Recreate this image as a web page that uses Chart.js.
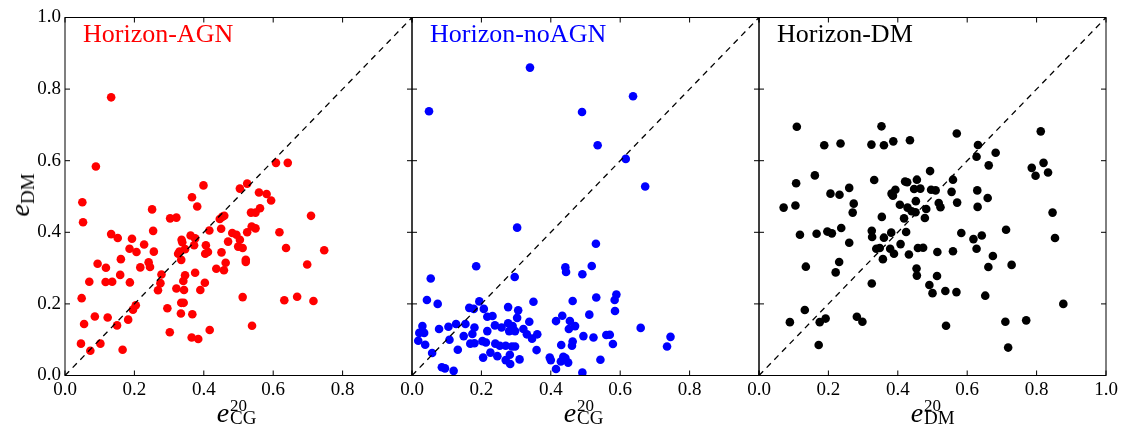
<!DOCTYPE html>
<html>
<head>
<meta charset="utf-8">
<script src="https://cdn.jsdelivr.net/npm/chart.js@4.4.0/dist/chart.umd.min.js"></script>
<style>
html, body { margin: 0; padding: 0; background: #fff; }
#fig { position: relative; width: 1123px; height: 434px; overflow: hidden; font-family: "Liberation Serif", "Times New Roman", serif; color: #000; }
#fig canvas { position: absolute; left: 0; top: 0; }
.name { position: absolute; top: 20.9px; font-size: 26px; line-height: 1; white-space: nowrap; }
.xl { position: absolute; top: 0; width: 0; height: 0; }
.xl span { position: absolute; line-height: 1; white-space: nowrap; }
.xl .e { left: -21.8px; top: 399.2px; font-size: 28px; font-style: italic; }
.xl .sup { left: -8.5px; top: 396.5px; font-size: 17px; }
.xl .sub { left: -8.5px; top: 408.4px; font-size: 19px; }
.yl { position: absolute; left: 20px; top: 195px; transform: translate(-50%, -50%) rotate(-90deg); font-size: 28px; line-height: 1; white-space: nowrap; }
.yl i { font-style: italic; }
.yl span { font-size: 19px; position: relative; top: 5px; }
</style>
</head>
<body>
<div id="fig">
  <canvas id="c-agn" width="1123" height="434"></canvas>
  <canvas id="c-noagn" width="1123" height="434"></canvas>
  <canvas id="c-dm" width="1123" height="434"></canvas>

  <div class="name" style="left:83px;color:#ff0000">Horizon-AGN</div>
  <div class="name" style="left:430px;color:#0000ff">Horizon-noAGN</div>
  <div class="name" style="left:777px;color:#000000">Horizon-DM</div>

  <div class="yl"><i>e</i><span>DM</span></div>
  <div class="xl" style="left:238.5px"><span class="e">e</span><span class="sup">20</span><span class="sub">CG</span></div>
  <div class="xl" style="left:585.5px"><span class="e">e</span><span class="sup">20</span><span class="sub">CG</span></div>
  <div class="xl" style="left:932.5px"><span class="e">e</span><span class="sup">20</span><span class="sub">DM</span></div>
</div>
<script>
// Horizon-AGN: e_CG^20 vs e_DM
const agnX = [0.399,0.504,0.525,0.050,0.366,0.381,0.559,0.581,0.594,0.562,0.549,0.536,0.709,0.052,0.251,0.303,0.321,0.446,0.453,0.459,
  0.450,0.416,0.538,0.549,0.525,0.618,0.133,0.152,0.193,0.254,0.362,0.336,0.338,0.375,0.482,0.494,0.504,0.470,0.372,0.406,
  0.499,0.512,0.228,0.186,0.206,0.256,0.330,0.346,0.326,0.404,0.412,0.451,0.335,0.161,0.094,0.118,0.217,0.241,0.245,0.463,
  0.521,0.521,0.436,0.458,0.698,0.637,0.747,0.070,0.117,0.136,0.159,0.187,0.278,0.275,0.346,0.341,0.375,0.403,0.268,0.321,
  0.343,0.390,0.048,0.512,0.632,0.669,0.716,0.204,0.196,0.295,0.335,0.342,0.086,0.123,0.182,0.055,0.150,0.334,0.367,0.539,
  0.302,0.417,0.365,0.384,0.046,0.102,0.073,0.166,0.133,0.089,0.608,0.642];
const agnY = [0.531,0.522,0.536,0.484,0.498,0.472,0.511,0.507,0.489,0.467,0.455,0.455,0.446,0.428,0.464,0.439,0.441,0.437,0.443,0.446,
  0.410,0.405,0.416,0.411,0.400,0.400,0.395,0.384,0.382,0.404,0.391,0.379,0.372,0.383,0.398,0.393,0.379,0.374,0.364,0.364,
  0.360,0.356,0.366,0.354,0.345,0.346,0.346,0.353,0.340,0.340,0.345,0.344,0.323,0.325,0.312,0.301,0.302,0.316,0.303,0.315,
  0.323,0.317,0.298,0.294,0.310,0.356,0.350,0.262,0.261,0.262,0.281,0.260,0.282,0.258,0.280,0.264,0.287,0.259,0.238,0.243,
  0.239,0.239,0.216,0.219,0.210,0.220,0.208,0.196,0.184,0.188,0.203,0.203,0.165,0.162,0.156,0.144,0.140,0.173,0.171,0.139,
  0.121,0.127,0.106,0.102,0.089,0.089,0.069,0.072,0.777,0.584,0.594,0.594];

// Horizon-noAGN: e_CG^20 vs e_DM
const noagnX = [0.340,0.049,0.490,0.637,0.535,0.616,0.672,0.303,0.530,0.185,0.442,0.444,0.518,0.491,0.054,0.296,0.043,0.074,0.194,0.165,
  0.178,0.207,0.277,0.306,0.350,0.463,0.531,0.584,0.589,0.585,0.511,0.433,0.217,0.232,0.303,0.338,0.415,0.455,0.030,0.021,
  0.035,0.078,0.105,0.127,0.154,0.180,0.239,0.258,0.277,0.290,0.280,0.297,0.321,0.331,0.361,0.346,0.452,0.470,0.217,0.174,
  0.149,0.108,0.018,0.038,0.168,0.180,0.203,0.213,0.240,0.253,0.270,0.288,0.297,0.494,0.523,0.560,0.570,0.659,0.745,0.735,
  0.579,0.430,0.463,0.461,0.359,0.132,0.058,0.205,0.226,0.246,0.270,0.282,0.283,0.310,0.397,0.400,0.436,0.442,0.429,0.450,
  0.415,0.491,0.543,0.086,0.095,0.120];
const noagnY = [0.860,0.738,0.736,0.780,0.643,0.605,0.528,0.413,0.368,0.305,0.302,0.289,0.306,0.283,0.271,0.275,0.211,0.200,0.207,0.189,
  0.186,0.186,0.191,0.182,0.206,0.208,0.218,0.211,0.226,0.180,0.170,0.167,0.164,0.166,0.161,0.150,0.152,0.152,0.138,0.119,
  0.119,0.130,0.136,0.144,0.144,0.134,0.140,0.134,0.146,0.138,0.124,0.124,0.130,0.115,0.115,0.103,0.130,0.138,0.124,0.116,
  0.110,0.100,0.097,0.086,0.089,0.090,0.096,0.092,0.089,0.083,0.083,0.081,0.081,0.110,0.106,0.113,0.114,0.133,0.108,0.081,
  0.088,0.085,0.095,0.083,0.071,0.072,0.063,0.050,0.064,0.054,0.043,0.058,0.032,0.045,0.050,0.043,0.052,0.049,0.039,0.036,
  0.018,0.008,0.044,0.023,0.020,0.013];

// Horizon-DM: e_DM^20 vs e_DM
const dmX = [0.109,0.353,0.570,0.812,0.188,0.235,0.324,0.360,0.387,0.435,0.631,0.627,0.682,0.662,0.786,0.797,0.820,0.833,0.107,0.161,
  0.206,0.232,0.260,0.332,0.421,0.427,0.455,0.493,0.559,0.382,0.393,0.447,0.465,0.496,0.509,0.555,0.629,0.659,0.071,0.105,
  0.273,0.270,0.386,0.406,0.428,0.452,0.440,0.451,0.482,0.478,0.518,0.523,0.571,0.630,0.354,0.418,0.846,0.118,0.166,0.197,
  0.210,0.237,0.260,0.325,0.326,0.360,0.381,0.424,0.408,0.338,0.348,0.378,0.389,0.357,0.432,0.458,0.473,0.514,0.559,0.583,
  0.618,0.642,0.627,0.674,0.661,0.728,0.712,0.853,0.135,0.231,0.221,0.454,0.455,0.513,0.491,0.500,0.537,0.569,0.652,0.325,
  0.132,0.089,0.175,0.192,0.282,0.298,0.539,0.710,0.770,0.877,0.172,0.718];
const dmY = [0.695,0.696,0.676,0.682,0.643,0.648,0.645,0.643,0.654,0.657,0.644,0.611,0.622,0.587,0.580,0.558,0.594,0.567,0.537,0.559,
  0.508,0.505,0.524,0.546,0.542,0.540,0.547,0.571,0.547,0.508,0.519,0.521,0.522,0.519,0.517,0.513,0.517,0.496,0.469,0.475,
  0.480,0.455,0.502,0.477,0.469,0.487,0.459,0.456,0.465,0.440,0.482,0.470,0.483,0.471,0.443,0.439,0.455,0.393,0.396,0.402,
  0.397,0.412,0.371,0.404,0.387,0.385,0.399,0.401,0.367,0.354,0.356,0.354,0.340,0.325,0.338,0.356,0.357,0.345,0.347,0.398,
  0.381,0.391,0.354,0.334,0.303,0.309,0.407,0.384,0.304,0.317,0.288,0.299,0.279,0.278,0.253,0.230,0.236,0.233,0.223,0.257,
  0.183,0.149,0.149,0.159,0.164,0.150,0.139,0.150,0.154,0.200,0.085,0.078];

const tickVals = [0, 0.2, 0.4, 0.6, 0.8, 1.0];
const diagX = [0, 1];
const diagY = [0, 1];

// panel geometry (pixels)
const panelLeft = [65, 412, 759];
const panelW = 347;
const FIG_W = 1123;
const Y_AXIS_W = 65;

// box + inward ticks on all four sides
const framePlugin = {
    id: 'frame',
    afterDraw: function(chart) {
        const ctx = chart.ctx, a = chart.chartArea;
        const sx = chart.scales.x, sy = chart.scales.y;
        ctx.save();
        ctx.strokeStyle = '#000';
        ctx.lineWidth = 1;
        ctx.strokeRect(a.left, a.top, a.right - a.left, a.bottom - a.top);
        ctx.beginPath();
        tickVals.forEach(function(v) {
            const x = sx.getPixelForValue(v), y = sy.getPixelForValue(v);
            ctx.moveTo(x, a.bottom); ctx.lineTo(x, a.bottom - 5);
            ctx.moveTo(x, a.top); ctx.lineTo(x, a.top + 5);
            ctx.moveTo(a.left, y); ctx.lineTo(a.left + 5, y);
            ctx.moveTo(a.right, y); ctx.lineTo(a.right - 5, y);
        });
        ctx.stroke();
        ctx.restore();
    }
};

const tickFont = { family: '"Liberation Serif", "Times New Roman", serif', size: 19 };

function makePanel(id, xs, ys, color, p, showLast) {
    const pts = xs.map(function(x, i) { return { x: x, y: ys[i] }; });
    const diag = diagX.map(function(x, i) { return { x: x, y: diagY[i] }; });
    return new Chart(document.getElementById(id), {
        type: 'scatter',
        data: {
            datasets: [
                {
                    type: 'line',
                    data: diag,
                    borderColor: '#000',
                    borderWidth: 1.3,
                    borderDash: [6, 5],
                    pointRadius: 0,
                    fill: false
                },
                {
                    data: pts,
                    backgroundColor: color,
                    borderColor: color,
                    borderWidth: 0,
                    pointRadius: 4.3,
                    pointHoverRadius: 4.3
                }
            ]
        },
        options: {
            responsive: false,
            animation: false,
            events: [],
            layout: {
                padding: {
                    left: panelLeft[p] - Y_AXIS_W,
                    right: FIG_W - panelLeft[p] - panelW,
                    top: 17.5,
                    bottom: 28.5
                }
            },
            plugins: { legend: { display: false }, tooltip: { enabled: false } },
            scales: {
                x: {
                    type: 'linear', min: 0, max: 1,
                    grid: { display: false, drawTicks: false, tickLength: 0 }, border: { display: false },
                    afterBuildTicks: function(s) { s.ticks = tickVals.map(function(v) { return { value: v }; }); },
                    afterFit: function(s) { s.height = 30; },
                    ticks: {
                        padding: 3, color: '#000', font: tickFont, maxRotation: 0, autoSkip: false,
                        callback: function(v) { return (Math.abs(v - 1) < 1e-9 && !showLast) ? '' : Number(v).toFixed(1); }
                    }
                },
                y: {
                    type: 'linear', min: 0, max: 1,
                    display: p === 0,
                    grid: { display: false, drawTicks: false, tickLength: 0 }, border: { display: false },
                    afterBuildTicks: function(s) { s.ticks = tickVals.map(function(v) { return { value: v }; }); },
                    afterFit: function(s) { s.width = Y_AXIS_W; },
                    ticks: {
                        padding: 4, color: '#000', font: tickFont, autoSkip: false,
                        callback: function(v) { return Number(v).toFixed(1); }
                    }
                }
            }
        },
        plugins: [framePlugin]
    });
}

makePanel('c-agn', agnX, agnY, '#ff0000', 0, false);
makePanel('c-noagn', noagnX, noagnY, '#0000ff', 1, false);
makePanel('c-dm', dmX, dmY, '#000000', 2, true);
</script>
</body>
</html>
